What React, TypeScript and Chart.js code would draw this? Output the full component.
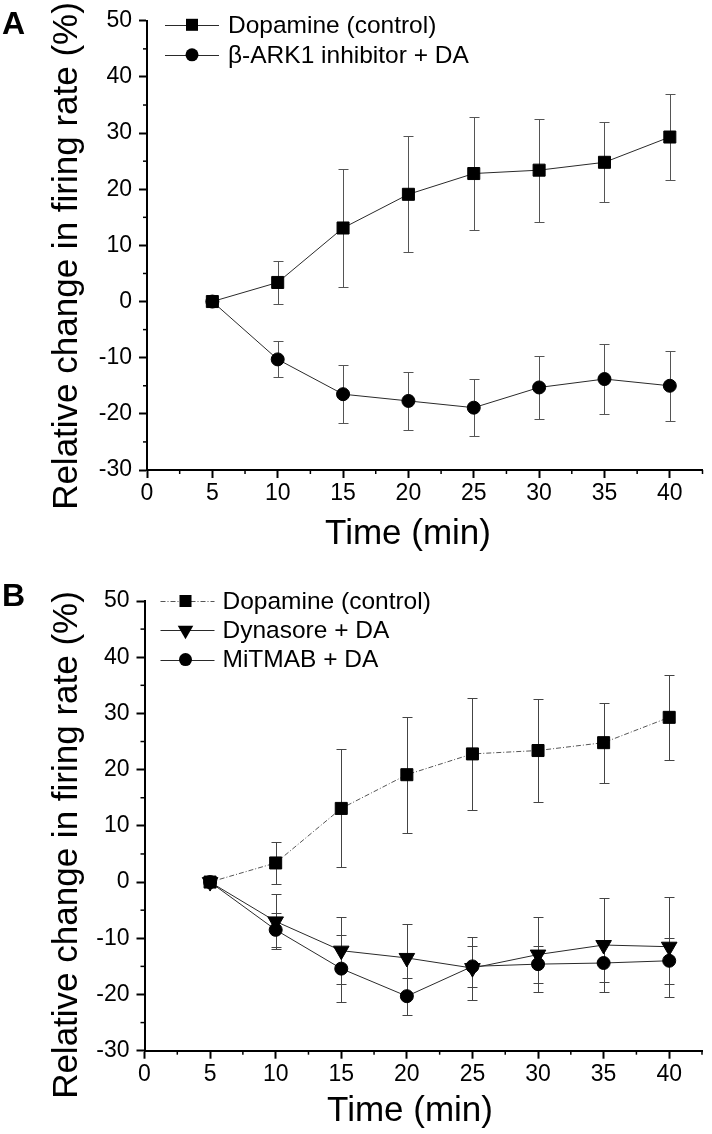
import React, { useEffect, useRef } from 'react';
import { Chart, registerables } from 'chart.js';

Chart.register(...registerables);

const FONT = '"Liberation Sans", Arial, Helvetica, sans-serif';

// ---- data ----
const timePoints = [5, 10, 15, 20, 25, 30, 35, 40];
const dopamineMean = [0, 3.4, 13.1, 19.1, 22.8, 23.4, 24.8, 29.3];
const dopamineErr = [0, 3.8, 10.5, 10.3, 10.0, 9.2, 7.1, 7.6];
const barkMean = [0, -10.3, -16.5, -17.7, -18.9, -15.3, -13.8, -15.0];
const barkErr = [0, 3.2, 5.2, 5.2, 5.1, 5.6, 6.2, 6.2];
const dynasoreMean = [0, -7.0, -12.2, -13.5, -15.3, -12.9, -11.2, -11.5];
const dynasoreErr = [0, 4.9, 6.0, 6.0, 5.6, 6.7, 8.3, 8.9];
const mitmabMean = [0, -8.5, -15.4, -20.3, -15.0, -14.6, -14.4, -14.0];
const mitmabErr = [0, 3.0, 6.0, 3.3, 3.7, 3.3, 3.4, 4.1];

const xMinorTicks = [2.5, 7.5, 12.5, 17.5, 22.5, 27.5, 32.5, 37.5, 42.5];
const yMinorTicks = [45, 35, 25, 15, 5, -5, -15, -25];

const xTitle = 'Time (min)';
const yTitle = 'Relative change in firing rate (%)';

const toPoints = (means: number[]) => timePoints.map((t, i) => ({ x: t, y: means[i] }));

type Spec = {
  letter: string;
  canvasTop: number;
  height: number;
  padTop: number;
  padRight: number;
  yWidth: number;
  xHeight: number;
  legendDy: number;
  legendGap: number;
  lineFrom: number;
  lineTo: number;
  markerAt: number;
  textAt: number;
  letterBaseline: number;
  yTitleCenterY: number;
  yTitleX: number;
  xTitleY: number;
  xTitleCenterX: number;
};

function drawMarker(ctx: CanvasRenderingContext2D, style: string, x: number, y: number, r: number) {
  ctx.beginPath();
  if (style === 'rect') {
    const s = r * Math.SQRT1_2;
    ctx.rect(x - s, y - s, 2 * s, 2 * s);
  } else if (style === 'triangle') {
    ctx.moveTo(x, y + r);
    ctx.lineTo(x + r * 0.866, y - r / 2);
    ctx.lineTo(x - r * 0.866, y - r / 2);
    ctx.closePath();
  } else {
    ctx.arc(x, y, r, 0, Math.PI * 2);
  }
  ctx.fill();
}

function makePlugin(spec: Spec) {
  return {
    id: 'panelDecor',
    beforeDatasetsDraw(chart: any) {
      const { ctx, scales } = chart;
      const x = scales.x;
      const y = scales.y;
      ctx.save();
      ctx.lineWidth = 1;
      chart.data.datasets.forEach((ds: any) => {
        const errs: number[] = ds.errors;
        if (!errs) return;
        ctx.strokeStyle = ds.errorColor || '#444';
        ds.data.forEach((pt: any, j: number) => {
          const e = errs[j];
          if (!e) return;
          const px = Math.round(x.getPixelForValue(pt.x)) + 0.5;
          const yt = Math.round(y.getPixelForValue(pt.y + e)) + 0.5;
          const yb = Math.round(y.getPixelForValue(pt.y - e)) + 0.5;
          ctx.beginPath();
          ctx.moveTo(px, yt);
          ctx.lineTo(px, yb);
          ctx.moveTo(px - 5, yt);
          ctx.lineTo(px + 5, yt);
          ctx.moveTo(px - 5, yb);
          ctx.lineTo(px + 5, yb);
          ctx.stroke();
        });
      });
      ctx.restore();
    },
    afterDraw(chart: any) {
      const { ctx, scales, chartArea } = chart;
      const x = scales.x;
      const y = scales.y;
      ctx.save();
      // minor ticks
      ctx.strokeStyle = '#000';
      ctx.lineWidth = 1.5;
      xMinorTicks.forEach((v) => {
        const px = x.getPixelForValue(v);
        ctx.beginPath();
        ctx.moveTo(px, chartArea.bottom);
        ctx.lineTo(px, chartArea.bottom + 4);
        ctx.stroke();
      });
      yMinorTicks.forEach((v) => {
        const py = y.getPixelForValue(v);
        ctx.beginPath();
        ctx.moveTo(chartArea.left, py);
        ctx.lineTo(chartArea.left - 4, py);
        ctx.stroke();
      });

      // legend
      chart.data.datasets.forEach((ds: any, i: number) => {
        const ly = chartArea.top + spec.legendDy + i * spec.legendGap;
        const lx = chartArea.left;
        ctx.strokeStyle = ds.borderColor;
        ctx.lineWidth = ds.borderWidth;
        ctx.setLineDash(ds.borderDash || []);
        ctx.beginPath();
        ctx.moveTo(lx + spec.lineFrom, Math.round(ly) + 0.5);
        ctx.lineTo(lx + spec.lineTo, Math.round(ly) + 0.5);
        ctx.stroke();
        ctx.setLineDash([]);
        ctx.fillStyle = '#000';
        drawMarker(ctx, ds.pointStyle, lx + spec.markerAt, ly, ds.pointRadius);
        ctx.font = `24.5px ${FONT}`;
        ctx.textAlign = 'left';
        ctx.textBaseline = 'middle';
        ctx.fillText(ds.label, lx + spec.textAt, ly + 1);
      });

      // axis titles
      ctx.fillStyle = '#000';
      ctx.font = `35px ${FONT}`;
      ctx.textAlign = 'center';
      ctx.textBaseline = 'middle';
      ctx.fillText(xTitle, spec.xTitleCenterX, spec.xTitleY);
      ctx.save();
      ctx.translate(spec.yTitleX, spec.yTitleCenterY);
      ctx.rotate(-Math.PI / 2);
      ctx.fillText(yTitle, 0, 0);
      ctx.restore();

      // panel letter
      ctx.font = `bold 32px ${FONT}`;
      ctx.textAlign = 'left';
      ctx.textBaseline = 'alphabetic';
      ctx.fillText(spec.letter, 2, spec.letterBaseline);
      ctx.restore();
    },
  };
}

function makeOptions(spec: Spec): any {
  const tickFont = { family: FONT, size: 23 };
  return {
    responsive: false,
    animation: false,
    devicePixelRatio: 1,
    layout: { padding: { top: spec.padTop, right: spec.padRight, left: 0, bottom: 0 } },
    plugins: { legend: { display: false }, tooltip: { enabled: false }, title: { display: false } },
    scales: {
      x: {
        type: 'linear',
        min: 0,
        max: 42.5,
        border: { display: true, color: '#000', width: 2 },
        grid: { display: true, drawOnChartArea: false, drawTicks: true, tickLength: 8, tickColor: '#000', tickWidth: 2 },
        ticks: { stepSize: 5, includeBounds: false, color: '#000', font: tickFont, padding: 2, maxRotation: 0, autoSkip: false },
        afterFit: (s: any) => {
          s.height = spec.xHeight;
        },
      },
      y: {
        type: 'linear',
        min: -30,
        max: 50,
        border: { display: true, color: '#000', width: 2 },
        grid: { display: true, drawOnChartArea: false, drawTicks: true, tickLength: 8, tickColor: '#000', tickWidth: 2 },
        ticks: { stepSize: 10, color: '#000', font: tickFont, padding: 7 },
        afterFit: (s: any) => {
          s.width = spec.yWidth;
        },
      },
    },
  };
}

const specA: Spec = {
  letter: 'A',
  canvasTop: 0,
  height: 560,
  padTop: 19,
  padRight: 8,
  yWidth: 147,
  xHeight: 90,
  legendDy: 4,
  legendGap: 30,
  lineFrom: 18,
  lineTo: 72,
  markerAt: 45,
  textAt: 81,
  letterBaseline: 34,
  yTitleCenterY: 256,
  yTitleX: 67,
  xTitleY: 534,
  xTitleCenterX: 408,
};

const specB: Spec = {
  letter: 'B',
  canvasTop: 560,
  height: 574,
  padTop: 41,
  padRight: 2.5,
  yWidth: 144.5,
  xHeight: 83.3,
  legendDy: 0,
  legendGap: 29.3,
  lineFrom: 16,
  lineTo: 70,
  markerAt: 41,
  textAt: 78,
  letterBaseline: 46,
  yTitleCenterY: 285,
  yTitleX: 67,
  xTitleY: 551,
  xTitleCenterX: 410,
};

const lineColor = '#2a2a2a';

function datasetsA(): any[] {
  return [
    {
      label: 'Dopamine (control)',
      data: toPoints(dopamineMean),
      errors: dopamineErr,
      borderColor: lineColor,
      borderWidth: 1,
      pointStyle: 'rect',
      pointRadius: 8.5,
      pointBackgroundColor: '#000',
      pointBorderColor: '#000',
      pointBorderWidth: 1,
      errorColor: '#555',
    },
    {
      label: 'β-ARK1 inhibitor + DA',
      data: toPoints(barkMean),
      errors: barkErr,
      borderColor: lineColor,
      borderWidth: 1,
      pointStyle: 'circle',
      pointRadius: 6.5,
      pointBackgroundColor: '#000',
      pointBorderColor: '#000',
      pointBorderWidth: 1,
      errorColor: '#555',
    },
  ];
}

function datasetsB(): any[] {
  return [
    {
      label: 'Dopamine (control)',
      data: toPoints(dopamineMean),
      errors: dopamineErr,
      borderColor: '#555',
      borderWidth: 1,
      borderDash: [5, 2, 1, 2],
      pointStyle: 'rect',
      pointRadius: 8.5,
      pointBackgroundColor: '#000',
      pointBorderColor: '#000',
      pointBorderWidth: 1,
      errorColor: '#444',
    },
    {
      label: 'Dynasore + DA',
      data: toPoints(dynasoreMean),
      errors: dynasoreErr,
      borderColor: lineColor,
      borderWidth: 1,
      pointStyle: 'triangle',
      pointRotation: 180,
      pointRadius: 9,
      pointBackgroundColor: '#000',
      pointBorderColor: '#000',
      pointBorderWidth: 1,
      errorColor: '#444',
    },
    {
      label: 'MiTMAB + DA',
      data: toPoints(mitmabMean),
      errors: mitmabErr,
      borderColor: lineColor,
      borderWidth: 1,
      pointStyle: 'circle',
      pointRadius: 6.5,
      pointBackgroundColor: '#000',
      pointBorderColor: '#000',
      pointBorderWidth: 1,
      errorColor: '#444',
    },
  ];
}

function Panel({ spec, datasets }: { spec: Spec; datasets: () => any[] }) {
  const ref = useRef<HTMLCanvasElement | null>(null);
  useEffect(() => {
    if (!ref.current) return;
    const chart = new Chart(ref.current, {
      type: 'line',
      data: { datasets: datasets() },
      options: makeOptions(spec),
      plugins: [makePlugin(spec)],
    } as any);
    return () => chart.destroy();
  }, []);
  return (
    <canvas
      ref={ref}
      width={712}
      height={spec.height}
      style={{ position: 'absolute', left: 0, top: spec.canvasTop, width: 712, height: spec.height }}
    />
  );
}

export default function App() {
  return (
    <div style={{ position: 'absolute', left: 0, top: 0, width: 712, height: 1134, background: '#fff' }}>
      <Panel spec={specA} datasets={datasetsA} />
      <Panel spec={specB} datasets={datasetsB} />
    </div>
  );
}
